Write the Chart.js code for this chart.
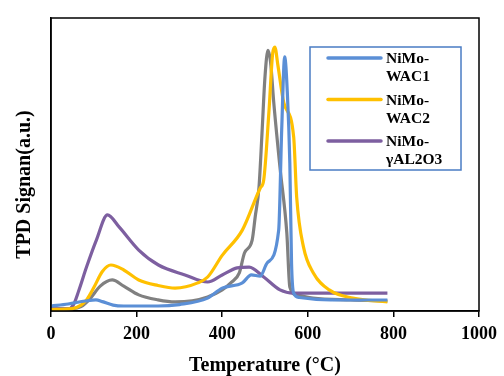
<!DOCTYPE html>
<html>
<head>
<meta charset="utf-8">
<script src="https://cdn.jsdelivr.net/npm/chart.js@4.4.1/dist/chart.umd.min.js"></script>
<style>
  body { margin: 0; background: #fff; }
</style>
</head>
<body>
<canvas id="tpdChart" width="504" height="376"></canvas>
<script>
// temperatures (°C) and signal (a.u., 0-100)
var wac1T = [0, 40, 80, 105, 120, 145, 170, 250, 300, 366, 400, 447, 468, 489, 505, 532, 539, 546, 552, 558, 562, 567, 580, 620, 700, 786];
var wac1Y = [1.7, 2.4, 3.4, 3.8, 3.2, 2.0, 1.7, 1.7, 2.2, 4.4, 7.8, 9.6, 12.3, 11.9, 16.4, 27.6, 61.8, 86.7, 75, 50.5, 16.4, 6.1, 4.6, 4.0, 3.75, 3.75];

var wac2T = [0, 50, 70, 83, 100, 120, 140, 170, 205, 250, 290, 343, 366, 400, 447, 489, 497, 509, 518, 523, 530, 544, 567, 574, 590, 613, 650, 705, 786];
var wac2Y = [0.5, 0.8, 2, 3.8, 8, 13.5, 15.7, 14, 10.6, 8.7, 7.8, 9.6, 11.6, 19, 27.6, 42, 44.7, 67.6, 88, 90.1, 84, 71, 59.4, 38.9, 21.8, 13, 7.2, 4.4, 3.1];

var aloT = [0, 40, 52, 65, 83, 106, 132, 159, 205, 251, 313, 366, 400, 435, 463, 497, 535, 567, 600, 786];
var aloY = [0.7, 0.7, 2, 7, 15, 24.2, 32.8, 28.7, 20.8, 15.7, 12.3, 9.9, 12.3, 14.7, 15, 11.6, 7.2, 6.1, 6.1, 6.1];

var grayT = [0, 50, 70, 90, 115, 143, 170, 205, 250, 290, 330, 366, 400, 420, 440, 452, 470, 477, 486, 493, 500, 507, 513, 520, 535, 551, 558, 574, 612, 700, 786];
var grayY = [0.7, 0.8, 1.5, 4, 8.5, 10.6, 8.5, 5.5, 3.8, 3.1, 3.5, 4.8, 7.2, 9.6, 13, 19.8, 24.2, 32, 42.3, 60.7, 80, 89, 85, 72, 49, 26.6, 8.2, 5.5, 4.4, 3.75, 3.4];

var seriesNames = [["NiMo-", "WAC1"], ["NiMo-", "WAC2"], ["NiMo-", "γAL2O3"]];
var xTicks = [0, 200, 400, 600, 800, 1000];

function pts(xs, ys) {
  return xs.map(function (x, i) { return { x: x, y: ys[i] }; });
}

var serif = "'Liberation Serif', 'Times New Roman', serif";

// box around the plot area
var frame = {
  id: 'frame',
  afterDatasetsDraw: function (chart) {
    var a = chart.chartArea, c = chart.ctx;
    c.save();
    c.strokeStyle = '#000';
    c.lineWidth = 1.5;
    c.strokeRect(a.left, a.top, a.right - a.left, a.bottom - a.top);
    c.restore();
  }
};

// two-line legend in a blue box, like the original
var boxLegend = {
  id: 'boxLegend',
  afterDraw: function (chart) {
    var c = chart.ctx, a = chart.chartArea;
    var bx = a.left + 259, by = a.top + 29, bw = 151, bh = 123;
    c.save();
    c.fillStyle = '#fff';
    c.fillRect(bx, by, bw, bh);
    c.strokeStyle = '#4a7cc4';
    c.lineWidth = 1.5;
    c.strokeRect(bx, by, bw, bh);
    c.font = 'bold 15.5px ' + serif;
    c.textBaseline = 'middle';
    c.fillStyle = '#000';
    chart.data.datasets.forEach(function (ds, i) {
      if (!ds.label) return;
      var ly = by + 11 + i * 41.5;
      c.strokeStyle = ds.borderColor;
      c.lineWidth = 3.5;
      c.lineCap = 'round';
      c.beginPath();
      c.moveTo(bx + 18, ly);
      c.lineTo(bx + 71, ly);
      c.stroke();
      seriesNames[i].forEach(function (t, k) {
        c.fillText(t, bx + 76, ly + 1 + k * 18);
      });
    });
    c.restore();
  }
};

var ctx = document.getElementById("tpdChart");
var myChart = new Chart(ctx, {
  type: 'line',
  data: {
    datasets: [
      { label: 'NiMo-WAC1', data: pts(wac1T, wac1Y), borderColor: '#5b8fd6' },
      { label: 'NiMo-WAC2', data: pts(wac2T, wac2Y), borderColor: '#ffc000' },
      { label: 'NiMo-γAL2O3', data: pts(aloT, aloY), borderColor: '#7d5fa0' },
      { label: '', data: pts(grayT, grayY), borderColor: '#808080' }
    ]
  },
  options: {
    responsive: false,
    animation: false,
    layout: { padding: { top: 18, right: 19, left: 0, bottom: 0 } },
    elements: {
      point: { radius: 0 },
      line: { borderWidth: 3.2, cubicInterpolationMode: 'monotone', fill: false }
    },
    plugins: {
      legend: { display: false },
      tooltip: { enabled: false }
    },
    scales: {
      x: {
        type: 'linear',
        min: 0,
        max: 1000,
        afterBuildTicks: function (s) { s.ticks = xTicks.map(function (v) { return { value: v }; }); },
        afterFit: function (s) { s.height = 65; },
        ticks: {
          color: '#000',
          padding: 7,
          font: { family: serif, size: 18, weight: 'bold' },
          callback: function (v) { return String(v); }
        },
        grid: { drawOnChartArea: false, drawTicks: true, tickLength: 6, color: '#000', lineWidth: 1.5 },
        border: { color: '#000', width: 1.5 },
        title: {
          display: true,
          text: 'Temperature (°C)',
          color: '#000',
          padding: { top: 0, bottom: 0 },
          font: { family: serif, size: 20, weight: 'bold', lineHeight: 1.0 }
        }
      },
      y: {
        min: 0,
        max: 100,
        afterFit: function (s) { s.width = 51; },
        ticks: { display: false },
        grid: { display: false },
        border: { color: '#000', width: 1.5 },
        title: {
          display: true,
          text: 'TPD Signan(a.u.)        ',
          color: '#000',
          padding: { top: 13, bottom: 0 },
          font: { family: serif, size: 20, weight: 'bold', lineHeight: 1.2 }
        }
      }
    }
  },
  plugins: [frame, boxLegend]
});
</script>
</body>
</html>
